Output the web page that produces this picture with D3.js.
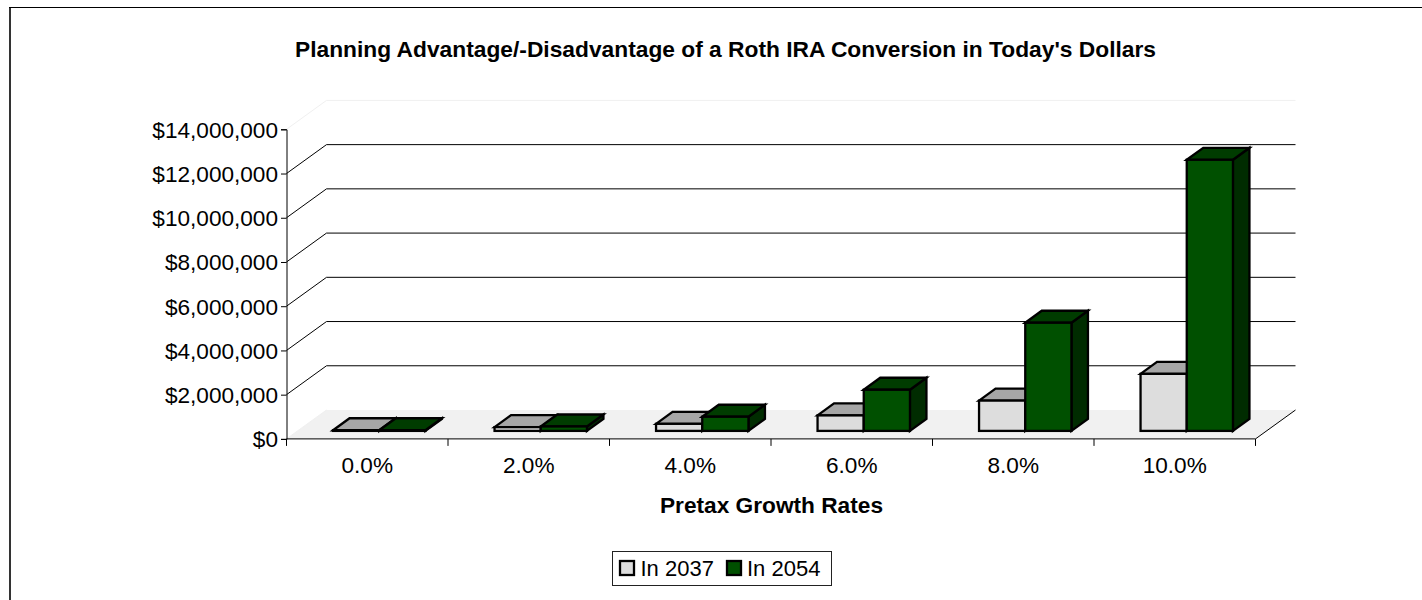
<!DOCTYPE html>
<html><head><meta charset="utf-8"><script src="https://cdn.jsdelivr.net/npm/d3@7"></script>
<style>html,body{margin:0;padding:0;background:#fff}svg{display:block}text{font-family:"Liberation Sans",Arial,sans-serif;fill:#000}</style>
</head><body><svg id="c" width="1422" height="600"></svg>
<script>
const categories = ["0.0%","2.0%","4.0%","6.0%","8.0%","10.0%"];
const seriesNames = ["In 2037","In 2054"];
const in2037 = [30000,170000,320000,700000,1370000,2580000];
const in2054 = [30000,200000,640000,1860000,4890000,12260000];
const yTicks = [0,2000000,4000000,6000000,8000000,10000000,12000000,14000000];
const title = "Planning Advantage/-Disadvantage of a Roth IRA Conversion in Today's Dollars";
const xTitle = "Pretax Growth Rates";

const svg = d3.select("#c");
const x = d3.scaleBand().domain(categories).range([286.5,1255.5]);
const y = d3.scaleLinear().domain([0,14000000]).range([438.9,129.3]);
const wall = {dx:40,dy:-28.9};
const barOff = {dx:12,dy:-8};
const depth = {dx:16.5,dy:-12};
const barW = 46.2;
const poly = p => "M"+p.map(a=>a.join(",")).join("L")+"Z";
const [x0,x1] = x.range();

// frame
svg.append("rect").attr("x",9).attr("y",7).attr("width",2).attr("height",593).attr("fill","#333");
svg.append("rect").attr("x",9).attr("y",7).attr("width",1413).attr("height",1).attr("fill","#000");

// floor
svg.append("path").attr("fill","#f1f1f1")
  .attr("d",poly([[x0,y(0)],[x0+wall.dx,y(0)+wall.dy],[x1+wall.dx,y(0)+wall.dy],[x1,y(0)]]));

// gridlines
const grid = svg.append("g").attr("fill","none");
yTicks.forEach(t=>{
  const faint = t===14000000 || t===0;
  grid.append("path")
    .attr("stroke",faint?"#f0f0f0":"#000")
    .attr("d",`M${x0},${y(t)}L${x0+wall.dx},${y(t)+wall.dy}`+(t===0?"":`H${x1+wall.dx}`));
});
svg.append("path").attr("fill","none").attr("stroke","#000")
  .attr("d",`M${x1},${y(0)}L${x1+wall.dx},${y(0)+wall.dy}`);

// bars
const colors = [
  {front:"#dddddd",top:"#a6a6a6",side:"#6e6e6e"},
  {front:"#005000",top:"#003c00",side:"#002c00"}
];
[in2037,in2054].forEach((vals,s)=>{
  const g = svg.append("g").attr("stroke","#000").attr("stroke-width",2.3);
  vals.forEach((v,i)=>{
    const cx = x(categories[i])+x.bandwidth()/2+barOff.dx;
    const l = cx+(s-1)*barW, r = l+barW;
    const b = y(0)+barOff.dy, t = y(v)+barOff.dy;
    g.append("path").attr("fill",colors[s].side)
      .attr("d",poly([[r,b],[r+depth.dx,b+depth.dy],[r+depth.dx,t+depth.dy],[r,t]]));
    g.append("path").attr("fill",colors[s].top)
      .attr("d",poly([[l,t],[l+depth.dx,t+depth.dy],[r+depth.dx,t+depth.dy],[r,t]]));
    g.append("rect").attr("x",l).attr("y",t).attr("width",barW).attr("height",b-t).attr("fill",colors[s].front);
  });
});

// axes
const yAxis = d3.axisLeft(y).tickValues(yTicks).tickSize(5.5).tickPadding(3)
  .tickFormat(d=>"$"+d3.format(",")(d));
const gy = svg.append("g").attr("transform",`translate(${x0},0)`).call(yAxis);
gy.selectAll("text").attr("font-size",22.6).attr("font-family",'"Liberation Sans"').attr("fill","#000").attr("dy",8);
gy.selectAll("line").attr("stroke","#000");
gy.select(".domain").attr("stroke","#000");

const xTickVals = d3.range(categories.length+1).map(i=>x0+i*x.step());
const gx = svg.append("g").attr("transform",`translate(0,${y(0)})`);
gx.append("path").attr("d",`M${x0},0H${x1}`).attr("stroke","#000");
gx.selectAll("line").data(xTickVals).join("line").attr("x1",d=>d).attr("x2",d=>d).attr("y1",0).attr("y2",7).attr("stroke","#000");
gx.selectAll("text").data(categories).join("text")
  .attr("x",d=>x(d)+x.bandwidth()/2).attr("y",33.8).attr("text-anchor","middle").attr("font-size",22.6).text(d=>d);

svg.append("text").attr("x",725.5).attr("y",57).attr("text-anchor","middle").attr("font-weight","bold").attr("font-size",21.5)
  .attr("textLength",861).attr("lengthAdjust","spacingAndGlyphs").text(title);
svg.append("text").attr("x",771.5).attr("y",512.5).attr("text-anchor","middle").attr("font-weight","bold").attr("font-size",21.5)
  .attr("textLength",223).attr("lengthAdjust","spacingAndGlyphs").text(xTitle);

// legend
const lg = svg.append("g");
lg.append("rect").attr("x",612.5).attr("y",551.5).attr("width",219).attr("height",34).attr("fill","#fff").attr("stroke","#222");
[[620,640.5],[727,747]].forEach(([sx,tx],i)=>{
  lg.append("rect").attr("x",sx).attr("y",561).attr("width",14).attr("height",14).attr("fill",colors[i].front).attr("stroke","#000").attr("stroke-width",2.3);
  lg.append("text").attr("x",tx).attr("y",576).attr("font-size",22).text(seriesNames[i]);
});
</script></body></html>
